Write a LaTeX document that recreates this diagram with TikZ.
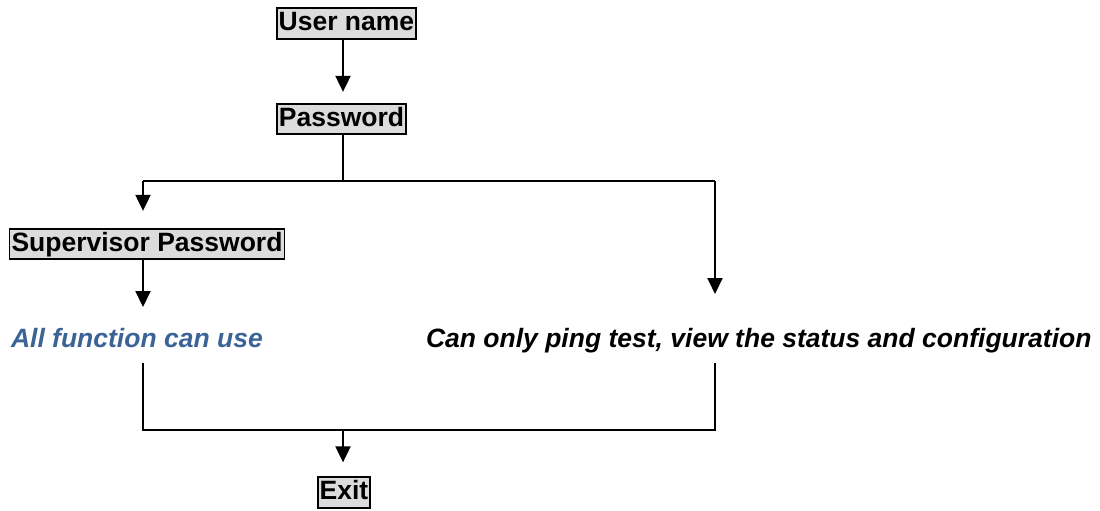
\documentclass[tikz,border=0pt]{standalone}
\usepackage{fontspec}
\setmainfont{Liberation Sans}
\usetikzlibrary{arrows.meta}
\definecolor{boxgray}{RGB}{220,220,220}
\definecolor{roleblue}{RGB}{59,99,150}
\begin{document}
\begin{tikzpicture}[x=1pt,y=-1pt,line width=2pt,
  field/.style={draw,fill=boxgray,font=\fontsize{26.5}{30}\selectfont\bfseries,
    inner xsep=2pt,inner ysep=3pt,text height=19.5pt,text depth=5pt,line width=1.8pt},
  role/.style={font=\fontsize{26.5}{30}\selectfont\bfseries\itshape,inner sep=0pt,
    anchor=base west,text height=19pt,text depth=5pt},
  arr/.style={-{Triangle[length=16pt,width=15pt]}}]
\useasboundingbox (0,0) rectangle (1100,511);

% login fields
\node[field] (user) at (346.5,23.5) {User name};
\node[field] (pass) at (341.5,119) {Password};
\node[field] (sup) at (147,244) {Supervisor Password};
\node[role,text=roleblue] (all) at (10,347) {All function can use};
\node[role] (view) at (425,347) {Can only ping test, view the status and configuration};
\node[field] (exit) at (344,492.5) {Exit};

% branch and merge points
\coordinate (split) at (343,181);
\coordinate (leftdrop) at (143,181);
\coordinate (rightdrop) at (715,181);
\coordinate (merge) at (343,430);
\coordinate (leftrise) at (143,430);
\coordinate (rightrise) at (715,430);

% connectors
\draw[arr] (user.south -| split) -- ([yshift=11pt]pass.north -| split);
\draw (pass.south -| split) -- (split);
\draw (leftdrop) -- (rightdrop);
\draw[arr] (leftdrop) -- ([yshift=17pt]sup.north -| leftdrop);
\draw[arr] (rightdrop) -- ([yshift=33pt]view.north -| rightdrop);
\draw[arr] (sup.south -| leftdrop) -- ([yshift=20pt]all.north -| leftdrop);
\draw ([yshift=-10pt]all.south -| leftrise) -- (leftrise) -- (rightrise)
  -- ([yshift=-10pt]view.south -| rightrise);
\draw[arr] (merge) -- ([yshift=14pt]exit.north -| merge);
\end{tikzpicture}
\end{document}
